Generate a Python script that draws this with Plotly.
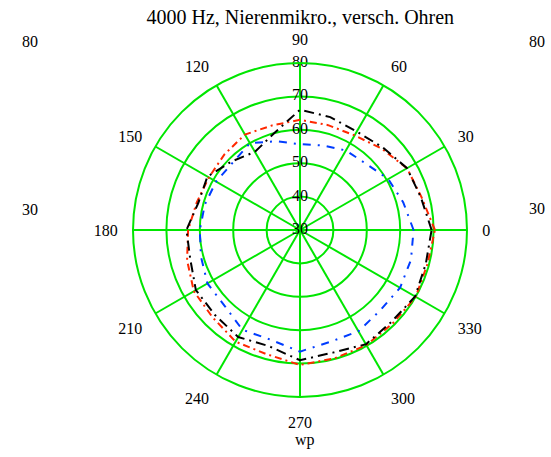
import plotly.graph_objects as go

theta = [0, 15, 30, 45, 60, 75, 90, 105, 120, 135, 150, 165, 180,
         195, 210, 225, 240, 255, 270, 285, 300, 315, 330, 345, 360]
red = [70.4, 67.7, 67, 64.5, 62.7, 62.5, 63, 62.4, 63, 62, 61.5, 62, 63.5,
       65, 66.7, 67, 68.6, 68.5, 70.4, 69.8, 69.8, 69.4, 70, 69.5, 70.4]
black = [69.4, 67.5, 67, 65, 64, 65, 66, 60, 57, 59, 62, 61.5, 64,
         64, 66, 66, 67, 66, 69, 68, 69.5, 68.8, 69.8, 69, 69.4]
blue = [64, 62, 60.5, 58, 57.5, 56.2, 55.7, 57.5, 60, 58.5, 59, 59.5, 60,
        60.7, 62, 62, 64.5, 64, 66.4, 64.7, 65, 64, 64.6, 64.4, 64]

radial_ticks = [30, 40, 50, 60, 70, 80]
angular_ticks = [0, 30, 60, 90, 120, 150, 180, 210, 240, 270, 300, 330]
title = "4000 Hz, Nierenmikro., versch. Ohren"
xlabel = "wp"

FONT = "Liberation Serif"
GREEN = "rgb(0,230,0)"

fig = go.Figure()
fig.add_trace(go.Scatterpolar(r=red, theta=theta, mode="lines",
                              line=dict(color="rgb(255,40,0)", width=2, dash="7px,4px,2px,4px")))
fig.add_trace(go.Scatterpolar(r=black, theta=theta, mode="lines",
                              line=dict(color="black", width=2, dash="10px,5px,2px,5px")))
fig.add_trace(go.Scatterpolar(r=blue, theta=theta, mode="lines",
                              line=dict(color="rgb(0,60,255)", width=2, dash="8px,7px,2px,7px")))
fig.add_trace(go.Scatterpolar(r=radial_ticks, theta=[90] * len(radial_ticks), mode="text",
                              text=[str(v) for v in radial_ticks], textposition="middle center",
                              textfont=dict(family=FONT, size=16, color="black"),
                              hoverinfo="skip"))

fig.update_layout(
    width=551, height=457,
    margin=dict(l=0, r=0, t=0, b=0),
    paper_bgcolor="white", plot_bgcolor="white",
    showlegend=False,
    font=dict(family=FONT, size=16, color="black"),
    title=dict(text=title, x=0.545, y=0.962, xanchor="center", yanchor="middle",
               font=dict(family=FONT, size=20, color="black")),
    polar=dict(
        domain=dict(x=[133 / 551, 467 / 551], y=[60 / 457, 394 / 457]),
        bgcolor="white",
        gridshape="circular",
        radialaxis=dict(range=[30, 80], tickvals=radial_ticks, showticklabels=False,
                        ticks="", showline=False, gridcolor=GREEN, gridwidth=2, angle=90),
        angularaxis=dict(tickvals=angular_ticks, ticktext=[str(v) for v in angular_ticks],
                         direction="counterclockwise", rotation=0,
                         ticks="outside", ticklen=11, tickcolor="rgba(0,0,0,0)",
                         showline=True, linecolor=GREEN, linewidth=2,
                         gridcolor=GREEN, gridwidth=2,
                         tickfont=dict(family=FONT, size=16, color="black")),
    ),
    annotations=[
        dict(text="80", x=30, y=457 - 42, xref="paper", yref="paper", showarrow=False),
        dict(text="80", x=537, y=457 - 42, xref="paper", yref="paper", showarrow=False),
        dict(text="30", x=30, y=457 - 210, xref="paper", yref="paper", showarrow=False),
        dict(text="30", x=537, y=457 - 208, xref="paper", yref="paper", showarrow=False),
        dict(text=xlabel, x=305, y=457 - 440, xref="paper", yref="paper", showarrow=False),
    ],
)
for a in fig.layout.annotations:
    a.x = a.x / 551
    a.y = a.y / 457
    a.xanchor = "center"
    a.yanchor = "middle"
    a.font = dict(family=FONT, size=16, color="black")

fig.write_html("out.html", config={"displayModeBar": False},
               post_script="document.body.style.margin='0';document.body.style.overflow='hidden';")
